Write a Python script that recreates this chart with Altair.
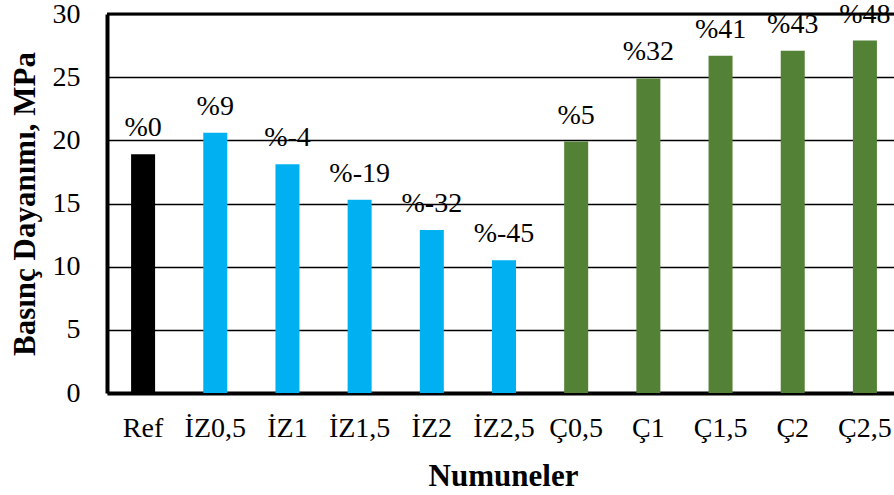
import altair as alt
import pandas as pd

categories = ["Ref", "İZ0,5", "İZ1", "İZ1,5", "İZ2", "İZ2,5", "Ç0,5", "Ç1", "Ç1,5", "Ç2", "Ç2,5"]
values = [18.9, 20.6, 18.1, 15.3, 12.9, 10.5, 19.9, 24.9, 26.7, 27.1, 27.9]
labels = ["%0", "%9", "%-4", "%-19", "%-32", "%-45", "%5", "%32", "%41", "%43", "%48"]
groups = ["Ref", "İZ", "İZ", "İZ", "İZ", "İZ", "Ç", "Ç", "Ç", "Ç", "Ç"]
group_names = ["Ref", "İZ", "Ç"]
group_colors = ["#000000", "#00B0F0", "#538135"]
y_ticks = [0, 5, 10, 15, 20, 25, 30]

df = pd.DataFrame({"cat": categories, "val": values, "lab": labels, "grp": groups})

FONT = "Liberation Serif"

x_enc = alt.X(
    "cat:N",
    sort=categories,
    scale=alt.Scale(range=[0, 794], paddingInner=0, paddingOuter=0),
    axis=alt.Axis(
        title="Numuneler",
        labelAngle=0,
        labelFont=FONT,
        labelFontSize=28,
        labelColor="black",
        labelPadding=21,
        ticks=False,
        domainColor="black",
        domainWidth=4,
        titleFont=FONT,
        titleFontSize=31,
        titleFontWeight="bold",
        titleColor="black",
        titleX=396,
        titleY=92,
        titleAlign="center",
        titleBaseline="alphabetic",
        labelOverlap=False,
    ),
)

y_enc = alt.Y(
    "val:Q",
    scale=alt.Scale(domain=[0, 30], nice=False),
    axis=alt.Axis(
        title="Basınç Dayanımı, MPa",
        values=y_ticks,
        labelFont=FONT,
        labelFontSize=28,
        labelColor="black",
        labelPadding=27,
        ticks=False,
        domainColor="black",
        domainWidth=4,
        grid=True,
        gridColor="black",
        gridWidth=1.5,
        gridOpacity=1,
        titleFont=FONT,
        titleFontSize=31,
        titleFontWeight="bold",
        titleColor="black",
        titlePadding=11,
    ),
)

base = alt.Chart(df)

bars = base.mark_bar(size=24).encode(
    x=x_enc,
    y=y_enc,
    color=alt.Color("grp:N", scale=alt.Scale(domain=group_names, range=group_colors), legend=None),
)

texts = base.mark_text(
    font=FONT, fontSize=28, baseline="alphabetic", dy=-18, color="black"
).encode(x=alt.X("cat:N", sort=categories), y="val:Q", text="lab:N")

top_border = alt.Chart(pd.DataFrame({"v": [30]})).mark_rule(
    color="black", strokeWidth=3
).encode(y="v:Q")

chart = (
    alt.layer(bars, texts, top_border)
    .properties(
        width=787,
        height=379,
        autosize=alt.AutoSizeParams(type="none"),
        padding={"left": 107, "top": 14, "right": 0, "bottom": 102},
        background="white",
    )
    .configure(font=FONT)
    .configure_view(stroke=None)
)

chart.save("out.html", embed_options={"renderer": "svg", "actions": False})
